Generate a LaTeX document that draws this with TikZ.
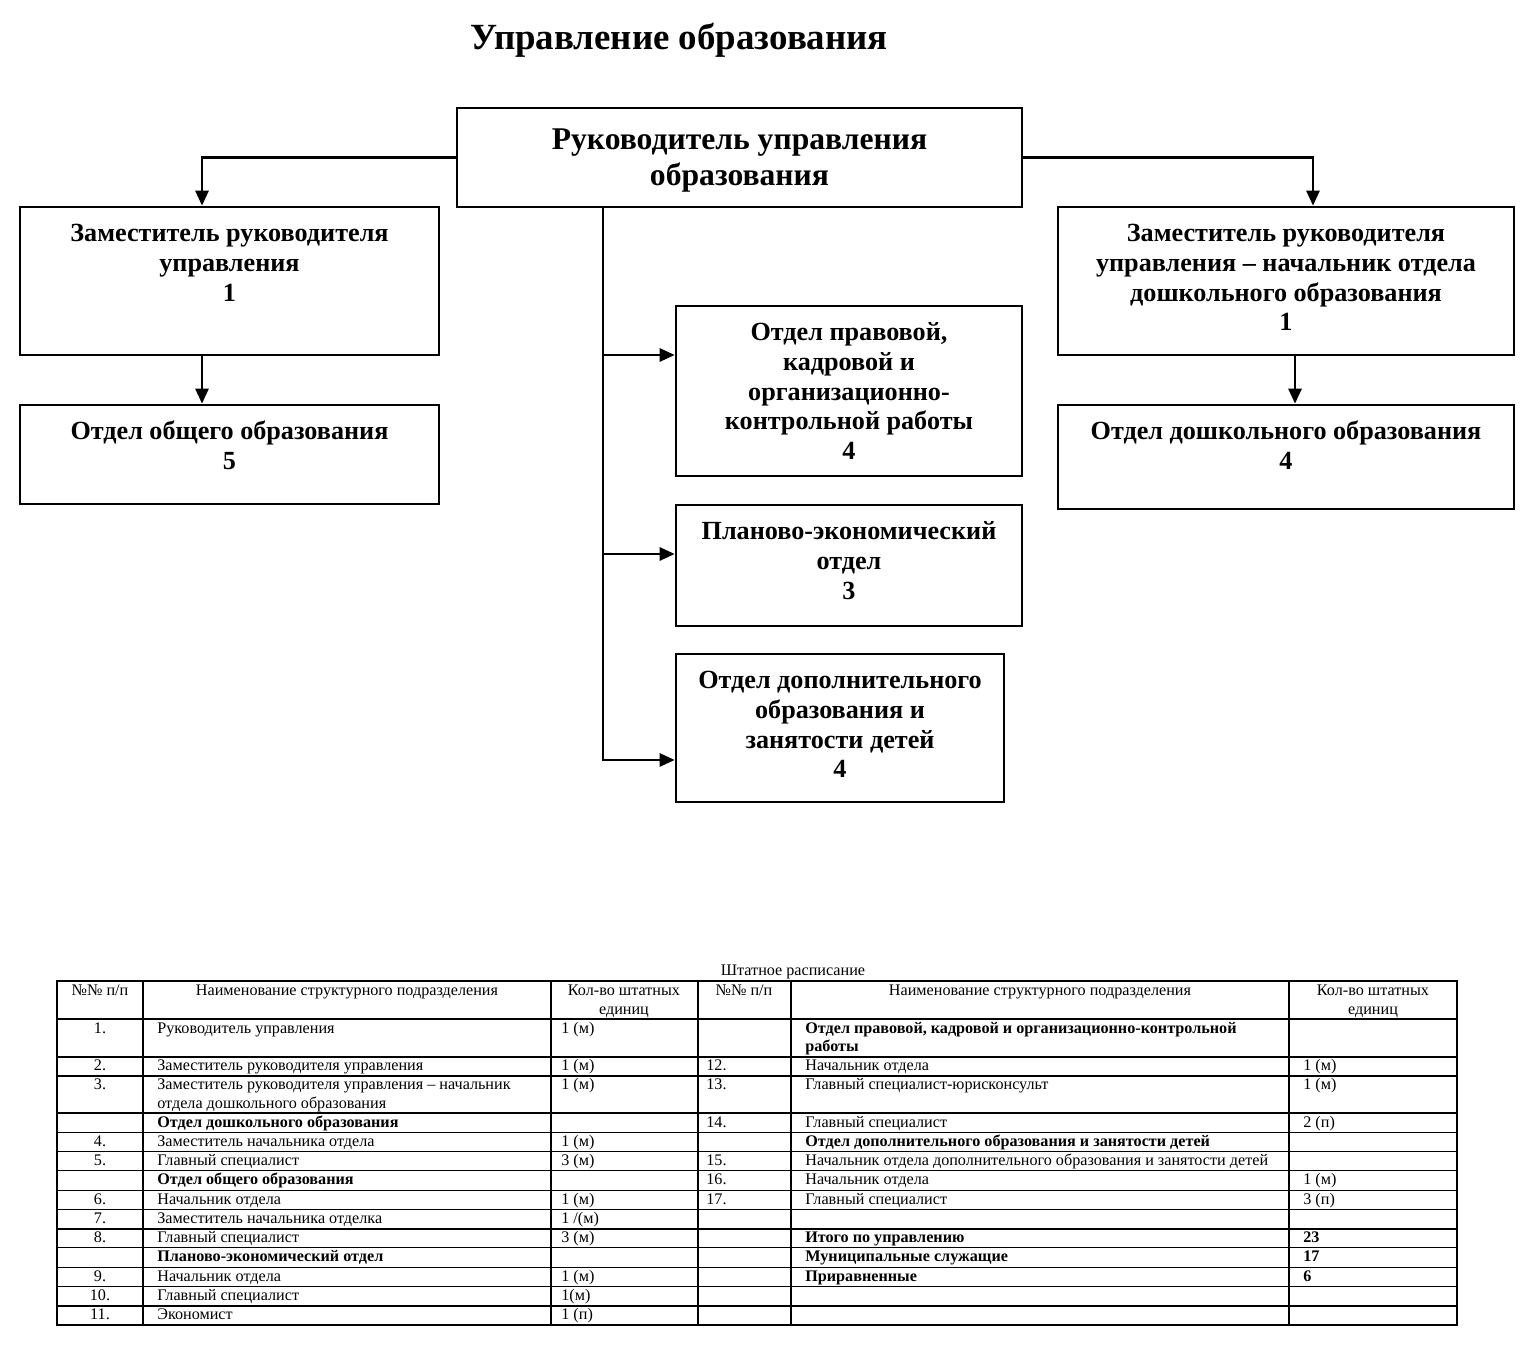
\documentclass[tikz,border=0pt]{standalone}
\usepackage{fontspec}
\setmainfont{Liberation Serif}
\usetikzlibrary{arrows.meta}

% text of a box: width, height, lines (first baseline fixed from the top)
\newcommand{\unittext}[4][19.5pt]{\parbox[c][#3][t]{#2}{\centering\rule{0pt}{#1}#4\par}}
\newcommand{\celltext}[1]{\begin{tabular}[t]{@{}l@{}}#1\end{tabular}}
\newcommand{\headtext}[1]{\begin{tabular}[t]{@{}c@{}}#1\end{tabular}}

\begin{document}
\begin{tikzpicture}[x=0.02cm, y=-0.02cm,
  unit/.style={draw, line width=1.5pt, inner sep=0pt, font=\bfseries\fontsize{14.9}{17}\selectfont},
  link/.style={line width=1.5pt, -{Triangle[length=0.3cm, width=0.26cm]}},
  cell/.style={inner sep=0pt, font=\fontsize{9.2}{10.3}\selectfont},
  grid/.style={line width=0.6pt},
  thickgrid/.style={line width=1.2pt}]
\useasboundingbox (0,0) rectangle (1536,1364);

% title
\node[font=\bfseries\fontsize{21}{25}\selectfont] (title) at (679,40) {Управление образования};

% boxes of the chart
\node[unit] (head) at (739.5,157.5) {\unittext[23.5pt]{11.3cm}{1.98cm}{\fontsize{18}{20.4}\selectfont Руководитель управления\\образования}};
\node[unit] (zam1) at (229.5,281) {\unittext{8.38cm}{2.96cm}{Заместитель руководителя\\управления\\1}};
\node[unit] (obsh) at (229.5,454.5) {\unittext{8.38cm}{1.98cm}{Отдел общего образования\\5}};
\node[unit] (zam2) at (1286,281) {\unittext{9.12cm}{2.96cm}{Заместитель руководителя\\управления – начальник отдела\\дошкольного образования\\1}};
\node[unit] (dosh) at (1286,457) {\unittext{9.12cm}{2.08cm}{Отдел дошкольного образования\\4}};
\node[unit] (prav) at (849,391) {\unittext{6.92cm}{3.4cm}{Отдел правовой,\\кадровой и\\организационно-\\контрольной работы\\4}};
\node[unit] (plan) at (849,565.5) {\unittext{6.92cm}{2.42cm}{Планово-экономический\\отдел\\3}};
\node[unit] (dop) at (840,728) {\unittext{6.56cm}{2.96cm}{Отдел дополнительного\\образования и\\занятости детей\\4}};

% connectors
\draw[link] (head.west) -| ([xshift=-0.55cm]zam1.north);
\draw[link] (head.east) -| ([xshift=0.54cm]zam2.north);
\draw[link] ([xshift=-0.55cm]zam1.south) -- ([xshift=-0.55cm]obsh.north);
\draw[link] ([xshift=0.18cm]zam2.south) -- ([xshift=0.18cm]dosh.north);
\coordinate (trunk) at ([xshift=-2.73cm]head.south);
\coordinate (pravin) at ([yshift=0.72cm]prav.west);
\coordinate (planin) at ([yshift=0.23cm]plan.west);
\coordinate (dopin) at ([yshift=-0.64cm]dop.west);
\draw[link] (trunk) |- (dopin);
\draw[link] (trunk |- pravin) -- (pravin);
\draw[link] (trunk |- planin) -- (planin);

% staff table
\node[cell, anchor=base] (tabtitle) at (793,976) {Штатное расписание};
\foreach \y in {981,1019,1057,1076,1113}
  \draw[grid] (57,\y) -- (1457,\y);
\foreach \k in {1,...,10}
  \draw[grid] (57,{1113+19.27*\k}) -- (1457,{1113+19.27*\k});
\foreach \x in {143,551,698,791,1289}
  \draw[grid] (\x,981) -- (\x,1325);
\draw[thickgrid] (57,981) rectangle (1457,1325);
\foreach \y in {1019,1057,1113,1228.6,1305.7}
  \draw[thickgrid] (57,\y) -- (1457,\y);

% header
\node[cell, anchor=base] (hn1) at (100,996) {№№ п/п};
\node[cell, anchor=base] (ht1) at (347,996) {Наименование структурного подразделения};
\node[cell, anchor=base] (hc1) at (624,996) {\headtext{Кол-во штатных\\единиц}};
\node[cell, anchor=base] (hn2) at (744,996) {№№ п/п};
\node[cell, anchor=base] (ht2) at (1040,996) {Наименование структурного подразделения};
\node[cell, anchor=base] (hc2) at (1373,996) {\headtext{Кол-во штатных\\единиц}};

% left half
\foreach \ytop/\num/\name/\cnt [count=\i] in {
  1019/1./Руководитель управления/1 (м),
  1057/2./Заместитель руководителя управления/1 (м),
  1076/3./{Заместитель руководителя управления – начальник\\отдела дошкольного образования}/1 (м),
  1113/{}/{\bfseries Отдел дошкольного образования}/{},
  1132.3/4./Заместитель начальника отдела/1 (м),
  1151.5/5./Главный специалист/3 (м),
  1170.8/{}/{\bfseries Отдел общего образования}/{},
  1190.1/6./Начальник отдела/1 (м),
  1209.4/7./Заместитель начальника отделка/{1 /(м)},
  1228.6/8./Главный специалист/3 (м),
  1247.9/{}/{\bfseries Планово-экономический отдел}/{},
  1267.2/9./Начальник отдела/1 (м),
  1286.4/10./Главный специалист/1(м),
  1305.7/11./Экономист/1 (п)}{
  \node[cell, anchor=base] (ln\i) at (100,{\ytop+14}) {\num};
  \node[cell, anchor=base west] (lt\i) at (157,{\ytop+14}) {\celltext{\name}};
  \node[cell, anchor=base west] (lc\i) at (561,{\ytop+14}) {\cnt};
}

% right half
\foreach \ytop/\num/\name/\cnt [count=\i] in {
  1019/{}/{\bfseries Отдел правовой, кадровой и организационно-контрольной\\\bfseries работы}/{},
  1057/12./Начальник отдела/1 (м),
  1076/13./Главный специалист-юрисконсульт/1 (м),
  1113/14./Главный специалист/2 (п),
  1132.3/{}/{\bfseries Отдел дополнительного образования и занятости детей}/{},
  1151.5/15./Начальник отдела дополнительного образования и занятости детей/{},
  1170.8/16./Начальник отдела/1 (м),
  1190.1/17./Главный специалист/3 (п),
  1228.6/{}/{\bfseries Итого по управлению}/{\bfseries 23},
  1247.9/{}/{\bfseries Муниципальные служащие}/{\bfseries 17},
  1267.2/{}/{\bfseries Приравненные}/{\bfseries 6}}{
  \node[cell, anchor=base west] (rn\i) at (706,{\ytop+14}) {\num};
  \node[cell, anchor=base west] (rt\i) at (805,{\ytop+14}) {\celltext{\name}};
  \node[cell, anchor=base west] (rc\i) at (1303,{\ytop+14}) {\cnt};
}
\end{tikzpicture}
\end{document}
